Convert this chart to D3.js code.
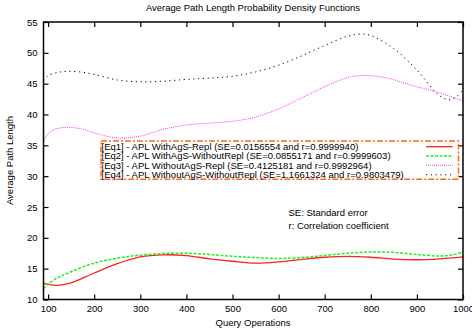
<!DOCTYPE html>
<html><head><meta charset="utf-8">
<script src="https://cdn.jsdelivr.net/npm/d3@7"></script>
<style>
html,body{margin:0;padding:0;background:#fff;}
svg{display:block;font-family:"Liberation Sans",Arial,sans-serif;}
</style></head>
<body>
<svg id="chart" width="472" height="332"></svg>
<script>
const title = "Average Path Length Probability Density Functions";
const xLabel = "Query Operations";
const yLabel = "Average Path Length";
const xTicks = [100,200,300,400,500,600,700,800,900,1000];
const yTicks = [10,15,20,25,30,35,40,45,50,55];

const eq1X = [90,120,150,200,250,300,350,400,450,500,550,600,650,700,750,800,850,900,950,1000];
const eq1Y = [12.6,12.3,12.7,14.3,15.8,16.9,17.25,17.1,16.6,16.2,15.9,16.1,16.5,16.85,17.0,16.85,16.55,16.45,16.6,16.9];

const eq2X = [90,100,120,140,200,250,300,350,400,450,500,550,600,650,700,750,800,850,900,950,975,1000];
const eq2Y = [11.75,12.5,13.5,14.2,15.9,16.7,17.2,17.45,17.5,17.3,17.0,16.8,16.65,16.8,17.15,17.5,17.7,17.65,17.3,17.05,17.2,17.7];

const eq3X = [90,100,115,135,170,205,250,300,350,400,450,500,550,600,650,700,750,785,830,900,950,1000];
const eq3Y = [35.6,36.9,37.6,37.9,37.7,36.9,36.2,36.5,37.6,38.3,38.6,38.9,39.6,40.9,42.7,44.5,46.0,46.3,46.0,44.5,43.5,42.2];

const eq4X = [90,100,120,140,170,200,250,300,350,400,450,500,550,600,650,700,750,780,800,850,900,950,975,1000];
const eq4Y = [45.5,46.3,46.8,47.0,46.9,46.5,45.6,45.3,45.4,45.7,45.9,46.2,46.9,48.0,49.5,51.2,52.7,53.05,52.8,50.7,47.2,43.0,42.4,44.0];

const legendLabels = [
  "[Eq1] - APL WithAgS-Repl (SE=0.0156554 and r=0.9999940)",
  "[Eq2] - APL WithAgS-WithoutRepl (SE=0.0855171 and r=0.9999603)",
  "[Eq3] - APL WithoutAgS-Repl (SE=0.4125181 and r=0.9992964)",
  "[Eq4] - APL WithoutAgS-WithoutRepl (SE=1.1661324 and r=0.9803479)"
];
const notes = ["SE: Standard error", "r: Correlation coefficient"];

const series = [
  {x: eq1X, y: eq1Y, color: "#ff2020", width: 1.3, dash: null},
  {x: eq2X, y: eq2Y, color: "#22ee22", width: 1.5, dash: "3,1.5"},
  {x: eq3X, y: eq3Y, color: "#ff33ff", width: 1, dash: "1,1"},
  {x: eq4X, y: eq4Y, color: "#000000", width: 1, dash: "1.2,3.6"}
];

const svg = d3.select("#chart");
const L = 43.5, R = 463, T = 22, B = 299.5;
const x = d3.scaleLinear().domain([90,1000]).range([L,R]);
const y = d3.scaleLinear().domain([10,55]).range([B,T]);

const fs = "9.5px";

// title
svg.append("text").attr("x",253).attr("y",10.5).attr("text-anchor","middle")
  .attr("font-size",fs).attr("fill","#000").text(title);

// clip
svg.append("defs").append("clipPath").attr("id","clip")
  .append("rect").attr("x",L).attr("y",T).attr("width",R-L).attr("height",B-T);

// lines
const line = d3.line().curve(d3.curveCatmullRom.alpha(0.5));
const g = svg.append("g").attr("clip-path","url(#clip)");
series.forEach(s=>{
  const pts = s.x.map((v,i)=>[x(v), y(s.y[i])]);
  g.append("path").attr("d", line(pts)).attr("fill","none")
    .attr("stroke", s.color).attr("stroke-width", s.width)
    .attr("stroke-dasharray", s.dash);
});

// axes (gnuplot style, ticks inward, mirrored)
const tl = 5;
const axB = svg.append("g").attr("transform",`translate(0,${B})`)
  .call(d3.axisBottom(x).tickValues(xTicks).tickSize(-tl).tickPadding(5.5).tickFormat(d3.format("d")));
const axT = svg.append("g").attr("transform",`translate(0,${T})`)
  .call(d3.axisTop(x).tickValues(xTicks).tickSize(-tl).tickFormat(""));
const axL = svg.append("g").attr("transform",`translate(${L},0)`)
  .call(d3.axisLeft(y).tickValues(yTicks).tickSize(-tl).tickPadding(6).tickFormat(d3.format("d")));
const axR = svg.append("g").attr("transform",`translate(${R},0)`)
  .call(d3.axisRight(y).tickValues(yTicks).tickSize(-tl).tickFormat(""));
[axB,axT,axL,axR].forEach(a=>{
  a.select(".domain").remove();
  a.selectAll(".tick line").attr("stroke","#000").attr("stroke-width",1.2);
  a.selectAll("text").attr("font-size",fs).attr("fill","#000")
    .attr("font-family","Liberation Sans, Arial, sans-serif");
});
svg.append("rect").attr("x",L).attr("y",T).attr("width",R-L).attr("height",B-T)
  .attr("fill","none").attr("stroke","#000").attr("stroke-width",1.5);

// axis labels
svg.append("text").attr("x",253).attr("y",326).attr("text-anchor","middle")
  .attr("font-size",fs).text(xLabel);
svg.append("text").attr("transform","translate(13,160.5) rotate(-90)")
  .attr("text-anchor","middle").attr("font-size",fs).text(yLabel);

// legend
const lg = svg.append("g");
lg.append("rect").attr("x",101).attr("y",141).attr("width",357.5).attr("height",38.3)
  .attr("fill","#fff").attr("stroke","#ff6a1a").attr("stroke-width",1.5)
  .attr("stroke-dasharray","6,2,2,2");
const rowY = [146.7,156,165.3,174.8];
legendLabels.forEach((t,i)=>{
  lg.append("text").attr("x",101.5).attr("y",rowY[i]+3.4).attr("font-size",fs)
    .attr("fill","#000").text(t);
  const s = series[i];
  lg.append("line").attr("x1",426).attr("x2",452.7).attr("y1",rowY[i]).attr("y2",rowY[i])
    .attr("stroke",s.color).attr("stroke-width",s.width).attr("stroke-dasharray",s.dash);
});

// notes
notes.forEach((t,i)=>{
  svg.append("text").attr("x",288.5).attr("y",216 + i*13).attr("font-size",fs)
    .attr("fill","#000").text(t);
});
</script>
</body></html>
